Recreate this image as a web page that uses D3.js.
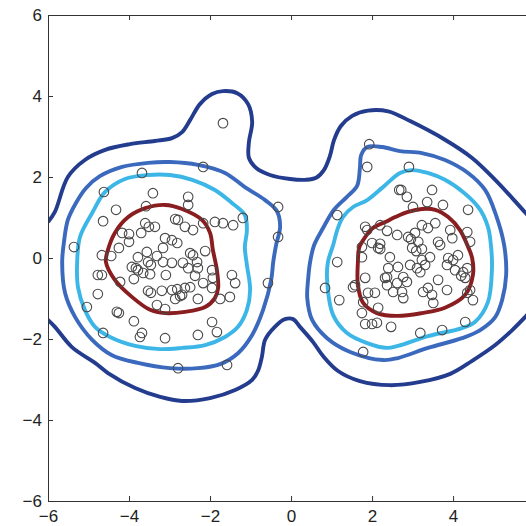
<!DOCTYPE html>
<html lang="en">
<head>
  <meta charset="UTF-8">
  <title>Density contours</title>
  <script src="https://d3js.org/d3.v7.min.js"></script>
  <style>
    body { margin: 0; background: #fff; font-family: 'Liberation Sans', Arial, sans-serif; }
    .axis text { font-size: 17px; fill: #222; font-family: 'Liberation Sans', Arial, sans-serif; }
    .axis path, .axis line { stroke: #333; stroke-width: 1; }
  </style>
</head>
<body>
<div class="chart"></div>
<script>
  // tick values
  const xTicks = [-6, -4, -2, 0, 2, 4];
  const yTicks = [-6, -4, -2, 0, 2, 4, 6];

  // observations, left cluster
  const pointsLeft = [
    [-3.68,2.10],[-4.62,1.63],[-3.41,1.60],[-4.32,1.19],[-3.58,1.28],[-4.64,0.91],[-3.60,0.86],
    [-3.36,0.77],[-3.51,0.77],[-3.70,0.62],[-3.11,0.49],[-4.25,0.25],[-4.00,0.40],[-5.36,0.27],
    [-4.44,0.05],[-3.16,0.25],[-2.86,0.96],[-2.79,0.94],[-2.62,0.77],[-2.42,0.69],[-2.17,0.86],
    [-1.88,0.89],[-1.68,0.86],[-4.17,0.62],[-4.00,0.59],[-2.94,0.44],[-2.81,0.37],[-4.67,0.07],
    [-3.56,0.15],[-2.49,0.12],[-2.42,0.07],[-2.12,0.17],[-3.78,0.02],[-3.31,0.05],[-3.53,-0.10],
    [-3.46,-0.17],[-3.16,-0.10],[-2.94,-0.12],[-2.67,-0.12],[-2.32,-0.10],[-2.30,-0.25],[-3.93,-0.22],
    [-3.83,-0.25],[-3.78,-0.30],[-4.67,-0.42],[-4.77,-0.42],[-3.65,-0.37],[-3.48,-0.40],[-3.09,-0.42],
    [-2.54,-0.25],[-2.37,-0.44],[-1.95,-0.30],[-1.93,-0.49],[-4.22,-0.59],[-3.88,-0.52],[-2.17,-0.62],
    [-3.53,-0.81],[-3.46,-0.86],[-3.19,-0.81],[-2.94,-0.79],[-2.81,-0.77],[-2.62,-0.74],[-2.49,-0.72],
    [-1.95,-0.74],[-2.69,-0.91],[-4.77,-0.89],[-5.04,-1.21],[-4.30,-1.33],[-4.25,-1.36],[-3.31,-1.16],
    [-3.88,-1.56],[-3.11,-1.26],[-4.64,-1.85],[-3.68,-1.85],[-3.73,-1.95],[-3.11,-1.98],[-1.46,-0.42],
    [-1.38,-0.62],[-0.57,-0.62],[-2.86,-1.01],[-2.74,-0.94],[-2.30,-1.01],[-1.75,-1.01],[-1.51,-0.96],
    [-1.95,-1.58],[-1.83,-1.83],[-2.30,-1.90],[-2.79,-2.72],[-1.58,-2.64],[-2.17,2.25],[-2.54,1.51],
    [-2.54,1.31],[-1.43,0.81],[-1.19,0.99],[-0.32,1.26],[-0.32,0.52],[-1.68,3.33]
  ];

  // observations, right cluster
  const pointsRight = [
    [1.93,2.81],[1.88,2.25],[2.67,1.68],[1.14,1.06],[1.83,0.77],[1.88,0.69],[2.20,0.81],[2.37,0.67],
    [2.62,0.57],[1.75,0.27],[2.00,0.37],[2.20,0.35],[2.91,2.25],[2.72,1.68],[2.86,1.51],[3.48,1.68],
    [3.36,1.38],[3.01,1.26],[3.75,1.31],[4.37,1.19],[3.23,0.81],[3.38,0.74],[3.56,0.86],[3.93,0.69],
    [3.98,0.49],[4.35,0.64],[2.89,0.52],[2.96,0.47],[3.14,0.40],[3.06,0.62],[3.63,0.40],[4.42,0.40],
    [2.99,0.25],[3.09,0.17],[3.23,0.22],[1.75,0.02],[2.15,0.25],[2.44,0.02],[3.43,0.02],[4.12,0.07],
    [3.88,0.00],[4.00,-0.05],[2.40,-0.25],[2.64,-0.22],[2.94,-0.17],[3.23,-0.05],[3.31,-0.17],[3.11,-0.25],
    [3.19,-0.35],[3.85,-0.17],[4.05,-0.30],[4.25,-0.35],[4.30,-0.49],[4.20,-0.44],[4.35,-0.25],[2.37,-0.47],
    [2.77,-0.47],[2.86,-0.59],[3.63,-0.54],[2.37,-0.67],[2.62,-0.62],[2.52,-0.84],[2.74,-0.84],[2.77,-0.99],
    [3.26,-0.84],[3.38,-0.74],[3.48,-0.91],[3.51,-1.11],[3.85,-0.79],[4.42,-0.79],[4.49,-1.04],[1.58,-0.67],
    [1.90,-0.86],[2.07,-0.86],[1.78,-1.09],[2.15,-1.23],[1.75,-1.36],[4.35,-0.86],[1.14,-0.10],[0.84,-0.74],
    [1.19,-1.04],[2.20,0.22],[1.83,-0.49],[1.53,-0.72],[2.32,-0.49],[1.83,-1.63],[2.00,-1.63],[2.12,-1.60],
    [2.47,-1.70],[1.78,-2.32],[3.68,0.32],[4.30,-1.58],[3.73,-1.78],[3.19,-1.85]
  ];

  // outermost level, clipped by the frame into an upper and a lower piece
  const level1Top = [
    [-6.00,0.89],[-5.83,1.14],[-5.51,2.00],[-5.09,2.42],[-4.59,2.67],[-3.98,2.81],[-3.36,2.89],
    [-2.94,2.96],[-2.69,3.11],[-2.49,3.41],[-2.25,3.80],[-1.95,4.05],[-1.68,4.12],[-1.33,4.07],
    [-1.06,3.80],[-0.96,3.36],[-1.04,2.86],[-1.04,2.47],[-0.86,2.22],[-0.52,2.05],[-0.02,1.95],
    [0.35,1.93],[0.62,1.98],[0.81,2.17],[0.96,2.52],[1.06,2.91],[1.23,3.26],[1.51,3.51],[1.90,3.64],
    [2.40,3.62],[2.94,3.38],[3.80,2.92],[4.47,2.47],[5.04,1.93],[5.46,1.48],[5.90,0.99]
  ];
  const level1Bottom = [
    [-6.05,-1.48],[-5.83,-1.70],[-5.41,-2.20],[-4.84,-2.59],[-4.52,-2.84],[-3.85,-3.21],[-3.23,-3.43],
    [-2.69,-3.53],[-2.00,-3.46],[-1.38,-3.26],[-0.96,-3.01],[-0.81,-2.77],[-0.72,-2.44],[-0.64,-2.02],
    [-0.40,-1.70],[-0.15,-1.51],[0.05,-1.51],[0.22,-1.70],[0.54,-2.07],[0.79,-2.42],[1.16,-2.79],
    [1.70,-3.04],[2.44,-3.14],[3.19,-3.06],[3.93,-2.86],[4.47,-2.54],[5.04,-2.15],[5.46,-1.78],[5.90,-1.33]
  ];

  const level2Left = [
    [-5.65,-0.10],[-5.60,0.44],[-5.51,0.94],[-5.31,1.36],[-5.06,1.73],[-4.72,2.02],[-4.17,2.25],
    [-3.53,2.35],[-2.99,2.37],[-2.30,2.30],[-1.63,2.10],[-1.14,1.75],[-0.64,1.43],[-0.35,1.16],
    [-0.27,0.77],[-0.37,0.32],[-0.44,-0.10],[-0.49,-0.54],[-0.69,-1.28],[-0.96,-1.90],[-1.31,-2.35],
    [-1.75,-2.62],[-2.30,-2.72],[-2.99,-2.72],[-3.78,-2.59],[-4.42,-2.40],[-4.91,-2.02],[-5.33,-1.46],
    [-5.58,-0.86]
  ];
  const level2Right = [
    [0.42,-0.54],[0.47,-0.10],[0.57,0.32],[0.79,0.74],[1.06,1.19],[1.38,1.51],[1.63,1.78],[1.70,2.22],
    [1.73,2.54],[1.88,2.74],[2.25,2.74],[2.69,2.64],[3.23,2.59],[3.80,2.42],[4.37,2.10],[4.79,1.68],
    [5.06,1.06],[5.26,0.32],[5.31,-0.42],[5.21,-1.04],[5.04,-1.46],[4.67,-1.78],[4.22,-1.98],[3.38,-2.22],
    [2.64,-2.47],[2.27,-2.52],[1.46,-2.32],[0.89,-1.98],[0.52,-1.53],[0.40,-0.99]
  ];

  const level3Left = [
    [-5.28,-0.10],[-5.21,0.52],[-4.91,1.11],[-4.59,1.63],[-4.10,1.95],[-3.53,2.05],[-2.99,2.05],
    [-2.44,1.93],[-1.88,1.68],[-1.46,1.36],[-1.14,1.06],[-1.09,0.69],[-1.14,0.27],[-1.09,-0.17],
    [-1.01,-0.79],[-1.09,-1.28],[-1.31,-1.70],[-1.63,-1.95],[-2.12,-2.15],[-2.69,-2.22],[-3.23,-2.25],
    [-3.85,-2.17],[-4.47,-1.95],[-4.84,-1.70],[-5.09,-1.28],[-5.26,-0.72]
  ];
  const level3Right = [
    [0.89,-0.54],[0.91,-0.10],[1.04,0.32],[1.14,0.69],[1.28,1.01],[1.53,1.26],[1.88,1.43],[2.27,1.75],
    [2.69,2.10],[2.99,2.17],[3.80,1.93],[4.62,1.26],[4.86,0.77],[4.94,0.25],[4.96,-0.25],[4.86,-1.09],
    [4.54,-1.58],[4.22,-1.73],[3.38,-1.93],[2.64,-2.17],[2.37,-2.22],[1.88,-2.10],[1.38,-1.85],[1.04,-1.41]
  ];

  const level4Left = [
    [-4.57,-0.10],[-4.52,0.20],[-4.35,0.62],[-4.02,1.01],[-3.60,1.23],[-3.11,1.31],[-2.69,1.21],
    [-2.20,0.94],[-2.00,0.62],[-1.93,0.20],[-1.83,-0.30],[-1.80,-0.74],[-1.88,-0.99],[-2.12,-1.21],
    [-2.62,-1.33],[-3.11,-1.36],[-3.48,-1.28],[-3.93,-0.96],[-4.35,-0.54]
  ];
  const level4Right = [
    [1.65,-0.10],[1.68,0.25],[1.78,0.44],[2.02,0.74],[2.37,0.91],[2.57,1.01],[2.89,1.14],[3.23,1.21],
    [3.56,1.19],[3.88,1.01],[4.17,0.69],[4.35,0.32],[4.47,0.00],[4.49,-0.42],[4.30,-0.91],[3.80,-1.23],
    [3.23,-1.36],[2.62,-1.43],[2.12,-1.36],[1.78,-1.11],[1.65,-0.67]
  ];

  const levelColors = ['#233c8e', '#3b69bd', '#3cb6e6', '#8a1d1f'];

  const margin = { top: 15, right: 0, bottom: 25, left: 48 };
  const width = 526 - margin.left - margin.right;
  const height = 526 - margin.top - margin.bottom;

  const x = d3.scaleLinear().domain([-6, 5.8]).range([0, width]);
  const y = d3.scaleLinear().domain([-6, 6]).range([height, 0]);

  const svg = d3.select('.chart')
    .append('svg')
    .attr('width', 526)
    .attr('height', 526)
    .append('g')
    .attr('transform', 'translate(' + margin.left + ',' + margin.top + ')');

  svg.append('clipPath')
    .attr('id', 'plot-clip')
    .append('rect')
    .attr('width', width)
    .attr('height', height);

  const plot = svg.append('g').attr('clip-path', 'url(#plot-clip)');

  const openLine = d3.line().x(d => x(d[0])).y(d => y(d[1])).curve(d3.curveCatmullRom.alpha(0.5));
  const closedLine = d3.line().x(d => x(d[0])).y(d => y(d[1])).curve(d3.curveCatmullRomClosed.alpha(0.5));

  const contours = [
    { pts: level1Top, level: 0, closed: false },
    { pts: level1Bottom, level: 0, closed: false },
    { pts: level2Left, level: 1, closed: true },
    { pts: level2Right, level: 1, closed: true },
    { pts: level3Left, level: 2, closed: true },
    { pts: level3Right, level: 2, closed: true },
    { pts: level4Left, level: 3, closed: true },
    { pts: level4Right, level: 3, closed: true }
  ];

  plot.selectAll('.contour')
    .data(contours)
    .enter().append('path')
    .attr('class', 'contour')
    .attr('d', d => (d.closed ? closedLine : openLine)(d.pts))
    .attr('fill', 'none')
    .attr('stroke', d => levelColors[d.level])
    .attr('stroke-width', 3.9)
    .attr('stroke-linejoin', 'round');

  plot.selectAll('.obs')
    .data(pointsLeft.concat(pointsRight))
    .enter().append('circle')
    .attr('class', 'obs')
    .attr('cx', d => x(d[0]))
    .attr('cy', d => y(d[1]))
    .attr('r', 4.8)
    .attr('fill', 'none')
    .attr('stroke', '#4a4a4a')
    .attr('stroke-width', 1.1);

  // axes, ticks pointing inward
  svg.append('g')
    .attr('class', 'axis')
    .call(d3.axisLeft(y).tickValues(yTicks).tickSize(-5).tickPadding(6).tickSizeOuter(0));

  svg.append('g')
    .attr('class', 'axis')
    .attr('transform', 'translate(0,' + height + ')')
    .call(d3.axisBottom(x).tickValues(xTicks).tickSize(-5).tickPadding(9).tickSizeOuter(0));

  svg.append('g')
    .attr('class', 'axis')
    .call(d3.axisTop(x).tickValues(xTicks).tickSize(-5).tickFormat('').tickSizeOuter(0));
</script>
</body>
</html>
